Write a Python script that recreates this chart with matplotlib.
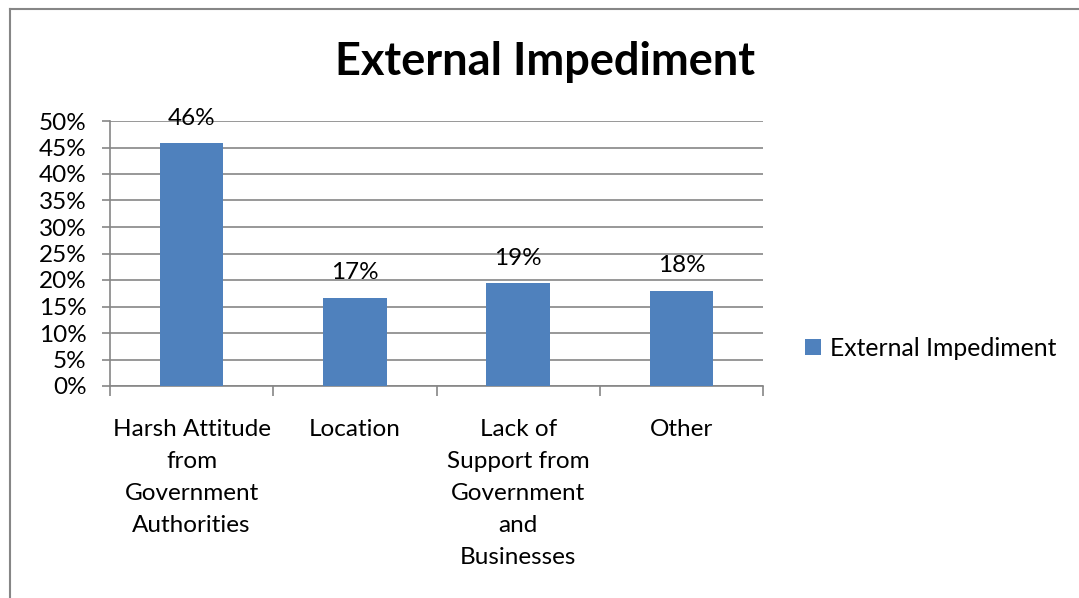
import matplotlib
matplotlib.use("Agg")
import matplotlib.pyplot as plt
from matplotlib.lines import Line2D
from matplotlib.ticker import FuncFormatter, FixedLocator

# Datos del gráfico
categorias = ["Harsh Attitude\nfrom\nGovernment\nAuthorities",
              "Location",
              "Lack of\nSupport from\nGovernment\nand\nBusinesses",
              "Other"]
valores = [0.458, 0.166, 0.194, 0.180]
serie = "External Impediment"
color_barra = "#4f81bd"
gris = "#868686"

plt.rcParams["font.family"] = ["Lato", "DejaVu Sans"]

fig = plt.figure(figsize=(10.79, 5.98), dpi=100)
W, H = 1079, 598

# Marco exterior del gráfico
fig.add_artist(Line2D([10 / W, 10 / W], [0, 1 - 9 / H], transform=fig.transFigure,
                      color=gris, lw=1.5))
fig.add_artist(Line2D([10 / W, 1], [1 - 9 / H, 1 - 9 / H], transform=fig.transFigure,
                      color=gris, lw=1.5))

ax = fig.add_axes([110 / W, (H - 386) / H, (763 - 110) / W, (386 - 121) / H])

x = range(len(valores))
barras = ax.bar(x, valores, width=0.39, color=color_barra, label=serie, zorder=3)

# Etiquetas de valor encima de cada barra
for xi, v in zip(x, valores):
    ax.annotate(f"{v:.0%}", (xi, v), xytext=(0, 10.5), textcoords="offset points",
                ha="center", va="bottom", fontsize=17.5, color="black")

ax.set_ylim(0, 0.5)
ax.set_xlim(-0.5, len(valores) - 0.5)
ax.set_yticks([i * 0.05 for i in range(11)])
ax.yaxis.set_major_formatter(FuncFormatter(lambda v, _: f"{v:.0%}"))
ax.grid(axis="y", color=gris, lw=1.2, zorder=0)

ax.set_xticks(list(x))
ax.set_xticklabels(categorias, linespacing=1.64)
ax.xaxis.set_minor_locator(FixedLocator([i - 0.5 for i in range(len(valores) + 1)]))
ax.tick_params(axis="x", which="major", length=0, pad=24, labelsize=17.5)
ax.tick_params(axis="x", which="minor", length=7, color=gris, width=1.2)
ax.tick_params(axis="y", length=6, color=gris, width=1.2, labelsize=17.5, pad=11)

for lado in ["top", "right"]:
    ax.spines[lado].set_visible(False)
for lado in ["left", "bottom"]:
    ax.spines[lado].set_color(gris)
    ax.spines[lado].set_linewidth(1.2)

fig.text(545 / W, 1 - 62 / H, "External Impediment", ha="center", va="center",
         fontsize=32.5, fontweight="bold")

fig.legend(handles=[barras], labels=[serie], loc="center left",
           bbox_to_anchor=(783 / W, 1 - 348 / H), frameon=False, fontsize=17.8,
           handlelength=0.65, handleheight=0.65, handletextpad=0.35)

fig.savefig("out.png", dpi=100)
